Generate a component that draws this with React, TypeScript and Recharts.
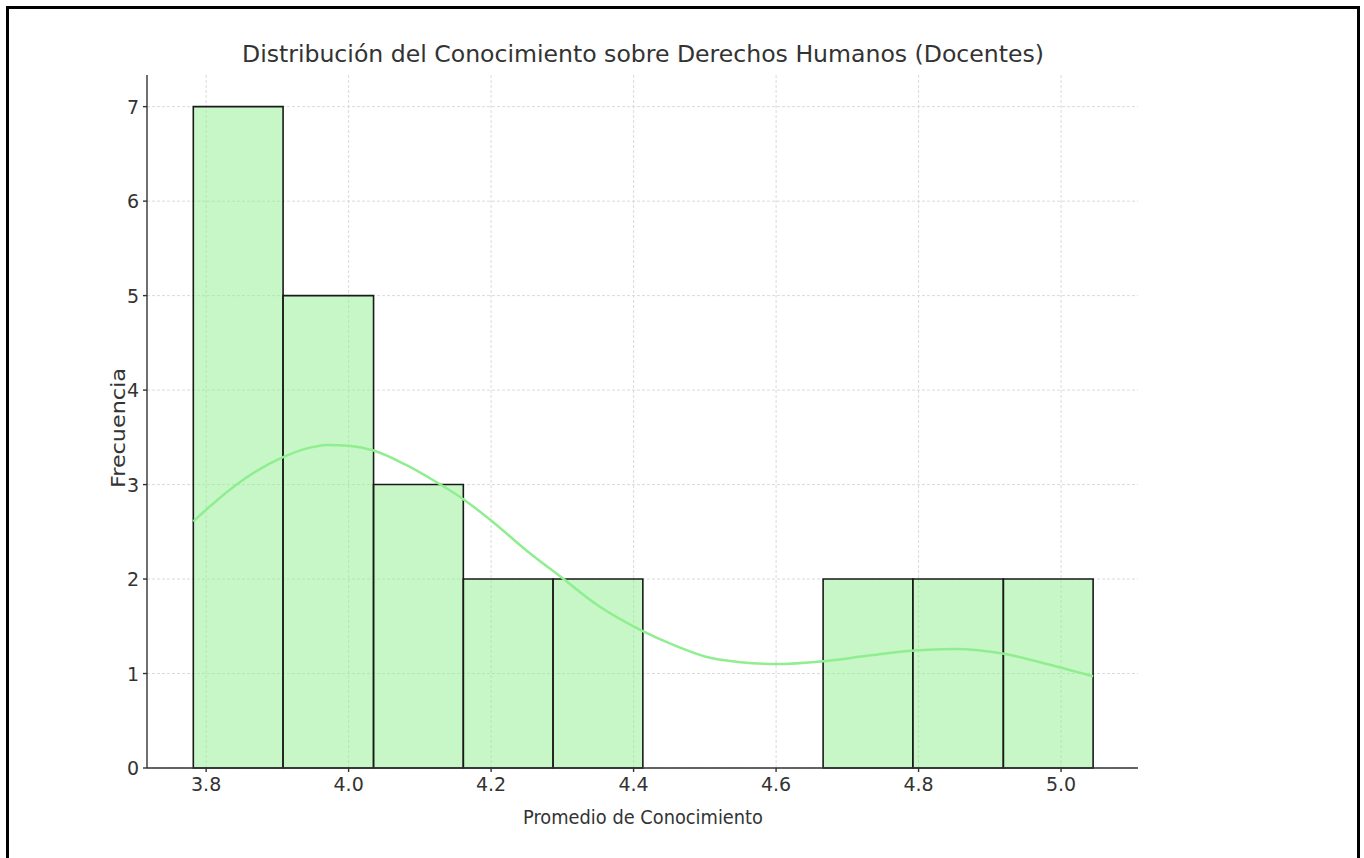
import {
  CartesianGrid,
  ComposedChart,
  Line,
  ReferenceArea,
  XAxis,
  YAxis,
} from "recharts";

const binEdges = [3.782, 3.908, 4.035, 4.161, 4.287, 4.413, 4.54, 4.666, 4.792, 4.919, 5.045];
const counts = [7, 5, 3, 2, 2, 0, 0, 2, 2, 2];

const kdeX = [
  3.782, 3.81, 3.841, 3.87, 3.908, 3.94, 3.97, 4.0, 4.035, 4.08, 4.12, 4.16, 4.2, 4.25,
  4.3, 4.35, 4.41, 4.46, 4.5, 4.55, 4.6, 4.666, 4.73, 4.79, 4.85, 4.92, 4.98, 5.045,
];
const kdeY = [
  2.61, 2.8, 2.99, 3.14, 3.29, 3.38, 3.42, 3.41, 3.36, 3.21, 3.04, 2.85, 2.62, 2.3,
  2.01, 1.72, 1.46, 1.29, 1.18, 1.12, 1.1, 1.13, 1.19, 1.24, 1.26, 1.21, 1.1, 0.97,
];

const xTicks = [3.8, 4.0, 4.2, 4.4, 4.6, 4.8, 5.0];
const yTicks = [0, 1, 2, 3, 4, 5, 6, 7];

const kdeData = kdeX.map((x, i) => ({ x, y: kdeY[i] }));
const bins = counts.map((c, i) => ({ x1: binEdges[i], x2: binEdges[i + 1], c }));

const FONT = "'DejaVu Sans', sans-serif";
const TEXT = "#333";

function XTick({ x, y, payload }: any) {
  return (
    <text x={x} y={y + 17} textAnchor="middle" fontFamily={FONT} fontSize={19} fill={TEXT}>
      {payload.value.toFixed(1)}
    </text>
  );
}

function YTick({ x, y, payload }: any) {
  return (
    <text x={x} y={y + 7} textAnchor="end" fontFamily={FONT} fontSize={19} fill={TEXT}>
      {payload.value}
    </text>
  );
}

export default function App() {
  return (
    <div style={{ position: "fixed", left: 0, top: 0, width: 1364, height: 858, background: "#fff" }}>
      <div
        style={{
          position: "absolute",
          left: 6,
          top: 6,
          width: 1354,
          height: 852,
          borderTop: "3px solid #000",
          borderLeft: "3px solid #000",
          borderRight: "3px solid #000",
          boxSizing: "border-box",
        }}
      />
      <div style={{ position: "absolute", left: 0, top: 0 }}>
        <ComposedChart
          width={1364}
          height={858}
          data={kdeData}
          margin={{ top: 75, right: 226, left: 107, bottom: 50 }}
        >
          <CartesianGrid stroke="#d6d6d6" strokeDasharray="3 2" strokeWidth={0.9} syncWithTicks />
          <XAxis
            dataKey="x"
            type="number"
            domain={[3.717, 5.108]}
            ticks={xTicks}
            height={40}
            tick={<XTick />}
            tickSize={4}
            tickMargin={2}
            stroke="#333"
            strokeWidth={1.4}
            allowDataOverflow
          />
          <YAxis
            type="number"
            domain={[0, 7.335]}
            ticks={yTicks}
            width={40}
            tick={<YTick />}
            tickSize={4}
            tickMargin={4}
            stroke="#333"
            strokeWidth={1.4}
            allowDataOverflow
          />
          {bins
            .filter((b) => b.c > 0)
            .map((b, i) => (
              <ReferenceArea
                key={i}
                x1={b.x1}
                x2={b.x2}
                y1={0}
                y2={b.c}
                fill="#90ee90"
                fillOpacity={0.5}
                stroke="#1a1a1a"
                strokeWidth={1.6}
                strokeOpacity={1}
              />
            ))}
          <Line
            dataKey="y"
            type="monotone"
            stroke="#90ee90"
            strokeWidth={2.5}
            dot={false}
            activeDot={false}
            isAnimationActive={false}
          />
        </ComposedChart>
      </div>
      <svg
        width={1364}
        height={858}
        style={{ position: "absolute", left: 0, top: 0, pointerEvents: "none" }}
      >
        <text
          x={643}
          y={62}
          textAnchor="middle"
          fontFamily={FONT}
          fontSize={23}
          fill={TEXT}
          textLength={802}
          lengthAdjust="spacingAndGlyphs"
        >
          Distribución del Conocimiento sobre Derechos Humanos (Docentes)
        </text>
        <text
          x={643}
          y={824}
          textAnchor="middle"
          fontFamily={FONT}
          fontSize={19}
          fill={TEXT}
          textLength={240}
          lengthAdjust="spacingAndGlyphs"
        >
          Promedio de Conocimiento
        </text>
        <text
          transform="translate(125 428) rotate(-90)"
          textAnchor="middle"
          fontFamily={FONT}
          fontSize={19}
          fill={TEXT}
          textLength={120}
          lengthAdjust="spacingAndGlyphs"
        >
          Frecuencia
        </text>
      </svg>
    </div>
  );
}
